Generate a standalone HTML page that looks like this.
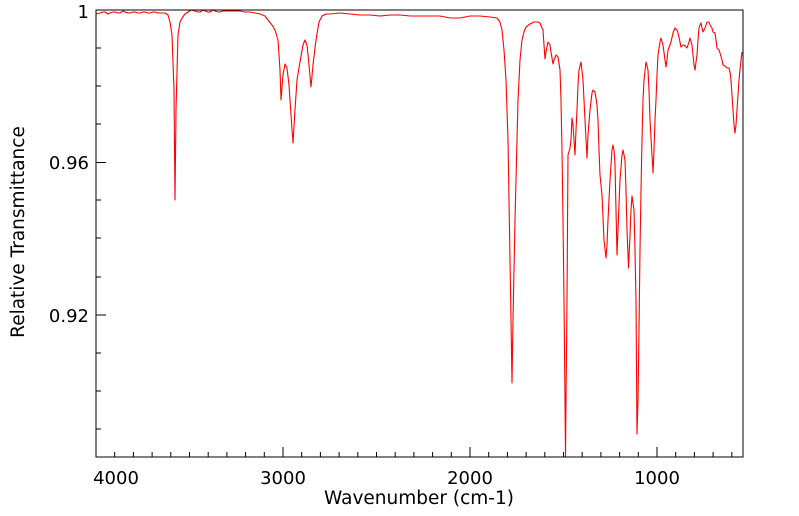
<!DOCTYPE html>
<html><head><meta charset="utf-8"><style>
html,body{margin:0;padding:0;background:#fff;}
svg{display:block;font-family:"DejaVu Sans","Liberation Sans",sans-serif;}
</style></head><body>
<svg width="799" height="516" viewBox="0 0 799 516" xmlns="http://www.w3.org/2000/svg">
<rect x="0" y="0" width="799" height="516" fill="#fff"/>
<g stroke="#000" stroke-width="1">
<path d="M96 10h10M96 162.5h10M96 315h10M96 48h5M96 86h5M96 124h5M96 200h5M96 238h5M96 277h5M96 353h5M96 391h5M96 429h5"/>
<path d="M96 457v-10M283 457v-10M470 457v-10M657 457v-10
M114.7 457v-5M133.4 457v-5M152.1 457v-5M170.8 457v-5M189.5 457v-5M208.2 457v-5M226.9 457v-5M245.6 457v-5M264.3 457v-5
M301.7 457v-5M320.4 457v-5M339.1 457v-5M357.8 457v-5M376.5 457v-5M395.2 457v-5M413.9 457v-5M432.6 457v-5M451.3 457v-5
M488.7 457v-5M507.4 457v-5M526.1 457v-5M544.8 457v-5M563.5 457v-5M582.2 457v-5M600.9 457v-5M619.6 457v-5M638.3 457v-5
M675.7 457v-5M694.4 457v-5M713.1 457v-5M731.8 457v-5"/>
</g>
<polyline fill="none" stroke="#ff0000" stroke-width="1.1" stroke-linejoin="round" points="
96,14 100,13 103,12 105,12 108,14 110,13 113,12 115,12 118,13 120,13 123,11 125,12 128,13 130,13 133,12 135,12 138,13 140,13 143,12 145,12 148,13 150,13 153,12 155,12 158,13 160,13 165,13 168,15 170,22 172,35 174,90 175,200 176,110 178,35 180,22 182,18 185,14 188,12 191,10 195,11 198,12 200,12 203,10 205,11 208,12 210,12 213,10 215,11 218,12 220,12 223,11 225,11 230,11 235,11 240,11 245,12 250,12 255,13 260,14 265,16 268,20 272,25 275,30 278,40 280,70 281,100 283,75 285,64 287,68 289,85 291,115 293,143 295,110 297,80 300,62 303,45 305,40 307,45 309,65 311,87 313,65 316,40 319,22 322,16 326,14 330,14 340,13 350,14 360,15 370,15 380,16 390,15 400,15 410,16 420,16 430,16 440,16 450,18 460,18 470,16 480,16 490,17 497,18 500,22 502,30 504,50 506,80 508,140 509,200 511,320 512,383 513,320 515,220 517,140 518,100 520,60 522,40 524,32 526,27 530,24 534,22 538,22 540,23 542,28 543,30 544,45 545,59 546,52 548,42 550,45 551,52 553,64 554,60 556,55 558,57 560,70 561,100 562,150 563,220 564,300 565,400 565.5,457 566,400 567,300 568,155 570,148 571,140 572,118 573,125 575,155 576,130 577,110 578,85 579,70 581,62 583,80 585,120 587,158 588,135 590,110 592,93 593,90 595,92 597,105 598,120 599,150 600,175 602,195 604,240 606,258 607,245 608,220 610,180 612,150 613,145 614,150 615,165 616,210 617,255 618,230 620,180 622,155 623,150 625,160 626,190 627,230 628.5,268 630,235 631,210 632,196 634,210 635,250 636,300 637,434 638,400 639,330 640,250 641,190 642,140 643,100 644,80 646,62 648,70 649,90 650,120 652,155 653,173 654,150 655,120 656,100 657,75 658,55 660,42 661,38 663,45 665,60 666,67 667,60 668,50 670,45 671,42 673,33 675,28 677,30 678,33 680,42 681,47 683,45 684,45 686,47 687,48 689,42 690,38 692,45 693,55 694,65 695,70 696,62 697,55 698,40 699,28 700,25 701,23 702,28 703,32 705,28 707,22 709,22 710,25 712,28 713,32 715,33 716,40 717,48 719,50 720,53 722,60 723,65 725,66 727,68 729,68 730,72 731,80 732,95 733,110 734,125 735,133 736,125 737,110 738,95 739,80 741,60 742,52"/>
<rect x="96" y="10" width="647" height="447" fill="none" stroke="#000" stroke-width="1"/>
<g font-size="18" fill="#000">
<text x="89" y="18" text-anchor="end">1</text>
<text x="89" y="169" text-anchor="end">0.96</text>
<text x="89" y="322" text-anchor="end">0.92</text>
<text x="116" y="484" text-anchor="middle">4000</text>
<text x="283" y="484" text-anchor="middle">3000</text>
<text x="470" y="484" text-anchor="middle">2000</text>
<text x="657" y="484" text-anchor="middle">1000</text>
<text x="419" y="504" text-anchor="middle" font-size="18.5">Wavenumber (cm-1)</text>
<text transform="translate(24,232) rotate(-90)" text-anchor="middle" font-size="18.5">Relative Transmittance</text>
</g>
</svg>
</body></html>
